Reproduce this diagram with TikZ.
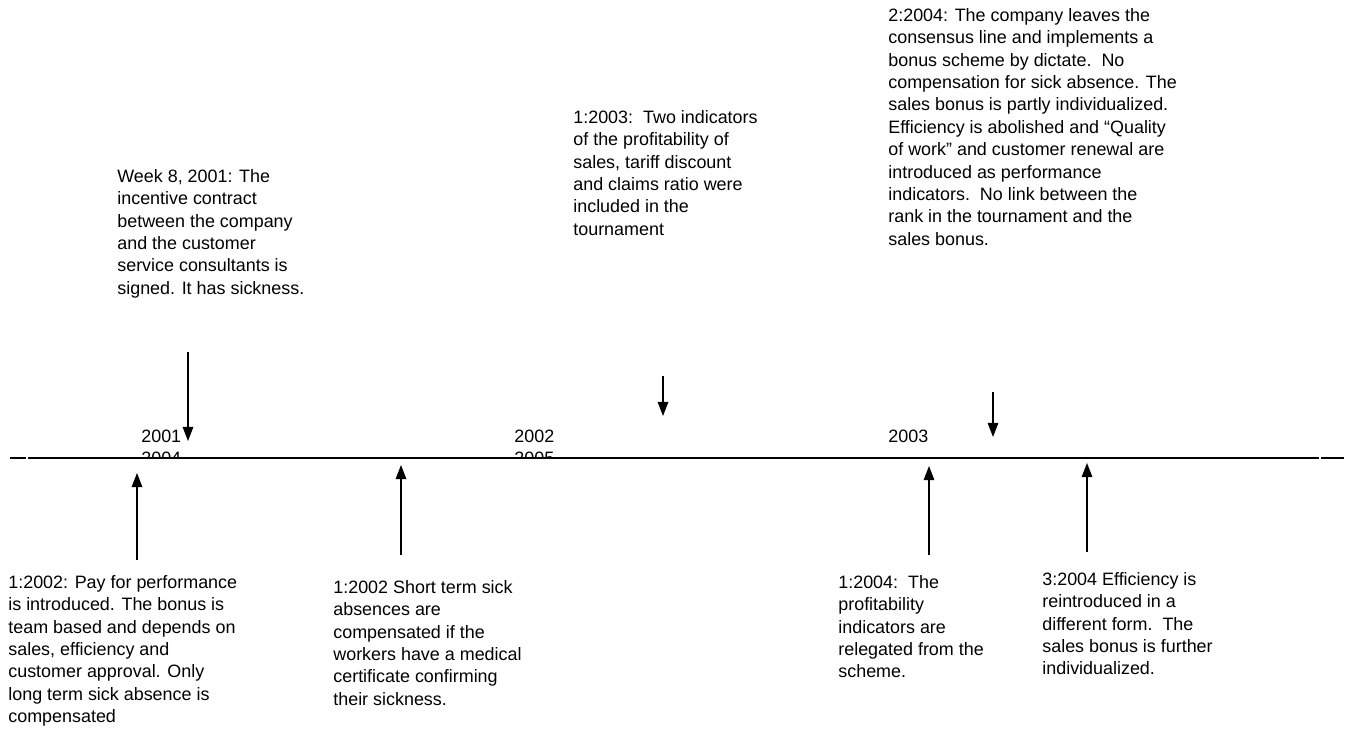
\documentclass[tikz,border=0pt]{standalone}
\usepackage{fontspec}
\setmainfont{Liberation Sans}
\usetikzlibrary{arrows.meta}

\begin{document}
\begin{tikzpicture}[x=0.02cm,y=-0.02cm,
  note/.style={anchor=north west,inner sep=0pt,align=left,
    font=\fontsize{10.2pt}{12.75pt}\selectfont},
  yearlabel/.style={anchor=north west,inner sep=0pt,
    font=\fontsize{10.2pt}{12.75pt}\selectfont},
  pointer/.style={line width=0.7pt,-{Triangle[length=8pt,width=6pt]}}]

\useasboundingbox (0,0) rectangle (1351,742);

% years on the line
\node[yearlabel] (y2001) at (141,430) {2001};
\node[yearlabel] (y2002) at (514,430) {2002};
\node[yearlabel] (y2003) at (888,430) {2003};
\begin{scope}
  \clip (0,0) rectangle (1351,457);
  \node[yearlabel] (y2004) at (141,452) {2004};
  \node[yearlabel] (y2005) at (514,452) {2005};
\end{scope}

% the time line
\coordinate (lineA) at (10,458);
\coordinate (lineB) at (26,458);
\coordinate (lineC) at (28,458);
\coordinate (lineD) at (1319,458);
\coordinate (lineE) at (1321,458);
\coordinate (lineF) at (1344,458);
\draw[line width=1pt] (lineA) -- (lineB);
\draw[line width=1pt] (lineC) -- (lineD);
\draw[line width=1pt] (lineE) -- (lineF);

% events above the line
\node[note] (week8) at (117,169) {Week 8, 2001: The\\incentive contract\\between the company\\and the customer\\service consultants is\\signed. It has sickness.};
\node[note] (ind2003) at (573,110) {1:2003:\ \ Two indicators\\of the profitability of\\sales, tariff discount\\and claims ratio were\\included in the\\tournament};
\node[note] (dict2004) at (888,8) {2:2004: The company leaves the\\consensus line and implements a\\bonus scheme by dictate.\ \ No\\compensation for sick absence. The\\sales bonus is partly individualized.\\Efficiency is abolished and “Quality\\of work” and customer renewal are\\introduced as performance\\indicators.\ \ No link between the\\rank in the tournament and the\\sales bonus.};

% events below the line
\node[note] (pay2002) at (8,575) {1:2002: Pay for performance\\is introduced. The bonus is\\team based and depends on\\sales, efficiency and\\customer approval. Only\\long term sick absence is\\compensated};
\node[note] (sick2002) at (333,580) {1:2002 Short term sick\\absences are\\compensated if the\\workers have a medical\\certificate confirming\\their sickness.};
\node[note] (rel2004) at (838,575) {1:2004:\ \ The\\profitability\\indicators are\\relegated from the\\scheme.};
\node[note] (eff2004) at (1042,572) {3:2004 Efficiency is\\reintroduced in a\\different form.\ \ The\\sales bonus is further\\individualized.};

% arrows
\coordinate (week8s) at (188,352);  \coordinate (week8t) at (188,441);
\coordinate (ind2003s) at (663,376); \coordinate (ind2003t) at (663,416);
\coordinate (dict2004s) at (993,392); \coordinate (dict2004t) at (993,437);
\coordinate (pay2002s) at (137,560); \coordinate (pay2002t) at (137,473);
\coordinate (sick2002s) at (401,555); \coordinate (sick2002t) at (401,465);
\coordinate (rel2004s) at (929,555); \coordinate (rel2004t) at (929,466);
\coordinate (eff2004s) at (1087,552); \coordinate (eff2004t) at (1087,463);

\foreach \ev in {week8,ind2003,dict2004,pay2002,sick2002,rel2004,eff2004}
  \draw[pointer] (\ev s) -- (\ev t);

\end{tikzpicture}
\end{document}
